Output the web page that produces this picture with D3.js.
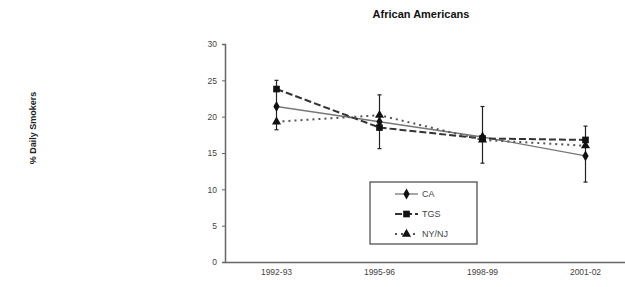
<!DOCTYPE html>
<html>
<head>
<meta charset="utf-8">
<script src="https://cdn.jsdelivr.net/npm/d3@7"></script>
<style>
  body { margin: 0; background: #fff; }
  svg { display: block; font-family: "Liberation Sans", Arial, sans-serif; }
</style>
</head>
<body>
<svg width="625" height="287"></svg>
<script>
var width = 625;
var height = 287;

var periods = ['1992-93', '1995-96', '1998-99', '2001-02'];
var yTicks = [0, 5, 10, 15, 20, 25, 30];
var caValues = [21.4, 19.3, 17.2, 14.6];
var tgsValues = [23.8, 18.5, 17.0, 16.8];
var nynjValues = [19.3, 20.2, 16.8, 16.0];
var errLow = [18.2, 15.6, 13.6, 11.0];
var errHigh = [25.0, 23.0, 21.4, 18.7];
var seriesNames = ['CA', 'TGS', 'NY/NJ'];

var svg = d3.select('svg');

var xScale = d3.scaleBand()
  .domain(periods)
  .range([225, 637])
  .padding(0);

var yScale = d3.scaleLinear()
  .domain([0, 30])
  .range([262, 44]);

function cx(d, i) { return xScale(periods[i]) + xScale.bandwidth() / 2; }

// title
svg.append('text')
  .attr('x', 421).attr('y', 18)
  .attr('text-anchor', 'middle')
  .attr('font-size', 11).attr('font-weight', 'bold')
  .attr('fill', '#111')
  .text('African Americans');

// y axis title
svg.append('text')
  .attr('transform', 'translate(36,128) rotate(-90)')
  .attr('text-anchor', 'middle')
  .attr('font-size', 9).attr('font-weight', 'bold')
  .attr('fill', '#222')
  .text('% Daily Smokers');

// axes
var yAxis = d3.axisLeft(yScale).tickValues(yTicks).tickSize(3).tickPadding(5);
var gy = svg.append('g').attr('transform', 'translate(225,0)').call(yAxis);
gy.select('.domain').attr('stroke', '#666').attr('stroke-width', 1.5);
gy.selectAll('.tick line').attr('stroke', '#666');
gy.selectAll('.tick text').attr('font-size', 8.5).attr('fill', '#444')
  .attr('font-family', '"Liberation Sans", Arial, sans-serif');

var xAxis = d3.axisBottom(xScale).tickSize(0).tickPadding(7);
var gx = svg.append('g').attr('transform', 'translate(0,262)').call(xAxis);
gx.select('.domain').attr('stroke', '#666').attr('stroke-width', 1.5);
gx.selectAll('.tick text').attr('font-size', 8.5).attr('fill', '#444')
  .attr('font-family', '"Liberation Sans", Arial, sans-serif');

// error bars
var errG = svg.append('g');
periods.forEach(function(p, i) {
  var x = cx(null, i);
  errG.append('line')
    .attr('x1', x).attr('x2', x)
    .attr('y1', yScale(errLow[i])).attr('y2', yScale(errHigh[i]))
    .attr('stroke', '#222').attr('stroke-width', 1.2);
  [errLow[i], errHigh[i]].forEach(function(v) {
    errG.append('line')
      .attr('x1', x - 2).attr('x2', x + 2)
      .attr('y1', yScale(v)).attr('y2', yScale(v))
      .attr('stroke', '#222').attr('stroke-width', 1.2);
  });
});

var line = d3.line()
  .x(function(d, i) { return cx(d, i); })
  .y(function(d) { return yScale(d); });

var styles = {
  'CA': { values: caValues, stroke: '#777', width: 1.3, dash: null, symbol: d3.symbolDiamond, size: 34 },
  'TGS': { values: tgsValues, stroke: '#333', width: 2, dash: '7,3', symbol: d3.symbolSquare, size: 44 },
  'NY/NJ': { values: nynjValues, stroke: '#555', width: 2, dash: '2,4', symbol: d3.symbolTriangle, size: 36 }
};

seriesNames.forEach(function(name) {
  var s = styles[name];
  svg.append('path')
    .datum(s.values)
    .attr('d', line)
    .attr('fill', 'none')
    .attr('stroke', s.stroke)
    .attr('stroke-width', s.width)
    .attr('stroke-dasharray', s.dash);
});

seriesNames.forEach(function(name) {
  var s = styles[name];
  svg.append('g').selectAll('path').data(s.values).enter()
    .append('path')
    .attr('d', d3.symbol().type(s.symbol).size(s.size))
    .attr('transform', function(d, i) { return 'translate(' + cx(d, i) + ',' + yScale(d) + ')'; })
    .attr('fill', '#111');
});

// legend
var legend = svg.append('g').attr('transform', 'translate(370,182)');
legend.append('rect')
  .attr('width', 107).attr('height', 62)
  .attr('fill', '#fff')
  .attr('stroke', '#444').attr('stroke-width', 1.2);

seriesNames.forEach(function(name, i) {
  var s = styles[name];
  var ly = 12 + i * 20;
  legend.append('line')
    .attr('x1', 25).attr('x2', 48)
    .attr('y1', ly).attr('y2', ly)
    .attr('stroke', s.stroke)
    .attr('stroke-width', s.width)
    .attr('stroke-dasharray', s.dash);
  legend.append('path')
    .attr('d', d3.symbol().type(s.symbol).size(s.size))
    .attr('transform', 'translate(36.5,' + ly + ')')
    .attr('fill', '#111');
  legend.append('text')
    .attr('x', 52).attr('y', ly + 3)
    .attr('font-size', 9).attr('fill', '#444')
    .text(name);
});
</script>
</body>
</html>
